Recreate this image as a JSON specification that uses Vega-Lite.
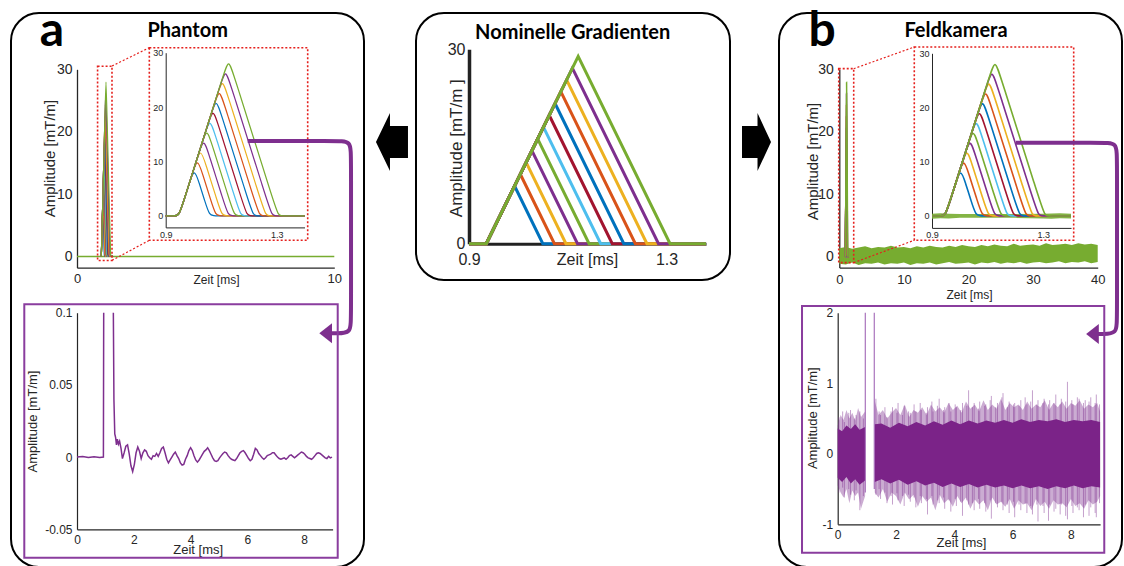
{
"$schema": "https://vega.github.io/schema/vega-lite/v6.json",
"padding": {"left": 10, "top": 7, "right": 0, "bottom": 0},
"background": "white",
"config": {
 "view": {"stroke": null},
 "axis": {"grid": false, "ticks": false, "labelFont": "Liberation Sans", "titleFont": "Liberation Sans", "labelColor": "#262626", "titleColor": "#262626", "titleFontWeight": "normal", "domainColor": "#262626", "labelFontSize": 13, "titleFontSize": 13, "labelFlush": false, "labelOverlap": false, "labelBound": false}
},
"datasets": {
 "base10": [{"t":0,"v":0},{"t":10,"v":0}],
 "grad": [
  {"g":"c00","t":0.9,"v":0},{"g":"c00","t":0.93,"v":0},{"g":"c00","t":0.948,"v":0},{"g":"c00","t":0.966,"v":2.92},{"g":"c00","t":0.9849,"v":5.98},{"g":"c00","t":1.0029,"v":8.9},{"g":"c00","t":1.0209,"v":5.98},{"g":"c00","t":1.0399,"v":2.92},{"g":"c00","t":1.0579,"v":0},{"g":"c00","t":1.0759,"v":0},{"g":"c00","t":1.4,"v":0},
  {"g":"c01","t":0.9,"v":0},{"g":"c01","t":0.93,"v":0},{"g":"c01","t":0.948,"v":0},{"g":"c01","t":0.966,"v":2.92},{"g":"c01","t":0.9962,"v":7.8},{"g":"c01","t":1.0142,"v":10.72},{"g":"c01","t":1.0322,"v":7.8},{"g":"c01","t":1.0623,"v":2.92},{"g":"c01","t":1.0803,"v":0},{"g":"c01","t":1.0983,"v":0},{"g":"c01","t":1.4,"v":0},
  {"g":"c02","t":0.9,"v":0},{"g":"c02","t":0.93,"v":0},{"g":"c02","t":0.948,"v":0},{"g":"c02","t":0.966,"v":2.92},{"g":"c02","t":1.0074,"v":9.62},{"g":"c02","t":1.0254,"v":12.54},{"g":"c02","t":1.0434,"v":9.62},{"g":"c02","t":1.0848,"v":2.92},{"g":"c02","t":1.1028,"v":0},{"g":"c02","t":1.1208,"v":0},{"g":"c02","t":1.4,"v":0},
  {"g":"c03","t":0.9,"v":0},{"g":"c03","t":0.93,"v":0},{"g":"c03","t":0.948,"v":0},{"g":"c03","t":0.966,"v":2.92},{"g":"c03","t":1.0186,"v":11.44},{"g":"c03","t":1.0366,"v":14.36},{"g":"c03","t":1.0546,"v":11.44},{"g":"c03","t":1.1073,"v":2.92},{"g":"c03","t":1.1253,"v":0},{"g":"c03","t":1.1433,"v":0},{"g":"c03","t":1.4,"v":0},
  {"g":"c04","t":0.9,"v":0},{"g":"c04","t":0.93,"v":0},{"g":"c04","t":0.948,"v":0},{"g":"c04","t":0.966,"v":2.92},{"g":"c04","t":1.0299,"v":13.26},{"g":"c04","t":1.0479,"v":16.18},{"g":"c04","t":1.0659,"v":13.26},{"g":"c04","t":1.1298,"v":2.92},{"g":"c04","t":1.1478,"v":0},{"g":"c04","t":1.1658,"v":0},{"g":"c04","t":1.4,"v":0},
  {"g":"c05","t":0.9,"v":0},{"g":"c05","t":0.93,"v":0},{"g":"c05","t":0.948,"v":0},{"g":"c05","t":0.966,"v":2.92},{"g":"c05","t":1.0411,"v":15.08},{"g":"c05","t":1.0591,"v":18},{"g":"c05","t":1.0771,"v":15.08},{"g":"c05","t":1.1522,"v":2.92},{"g":"c05","t":1.1702,"v":0},{"g":"c05","t":1.1882,"v":0},{"g":"c05","t":1.4,"v":0},
  {"g":"c06","t":0.9,"v":0},{"g":"c06","t":0.93,"v":0},{"g":"c06","t":0.948,"v":0},{"g":"c06","t":0.966,"v":2.92},{"g":"c06","t":1.0524,"v":16.9},{"g":"c06","t":1.0704,"v":19.82},{"g":"c06","t":1.0884,"v":16.9},{"g":"c06","t":1.1747,"v":2.92},{"g":"c06","t":1.1927,"v":0},{"g":"c06","t":1.2107,"v":0},{"g":"c06","t":1.4,"v":0},
  {"g":"c07","t":0.9,"v":0},{"g":"c07","t":0.93,"v":0},{"g":"c07","t":0.948,"v":0},{"g":"c07","t":0.966,"v":2.92},{"g":"c07","t":1.0636,"v":18.72},{"g":"c07","t":1.0816,"v":21.64},{"g":"c07","t":1.0996,"v":18.72},{"g":"c07","t":1.1972,"v":2.92},{"g":"c07","t":1.2152,"v":0},{"g":"c07","t":1.2332,"v":0},{"g":"c07","t":1.4,"v":0},
  {"g":"c08","t":0.9,"v":0},{"g":"c08","t":0.93,"v":0},{"g":"c08","t":0.948,"v":0},{"g":"c08","t":0.966,"v":2.92},{"g":"c08","t":1.0748,"v":20.54},{"g":"c08","t":1.0928,"v":23.46},{"g":"c08","t":1.1108,"v":20.54},{"g":"c08","t":1.2196,"v":2.92},{"g":"c08","t":1.2376,"v":0},{"g":"c08","t":1.2556,"v":0},{"g":"c08","t":1.4,"v":0},
  {"g":"c09","t":0.9,"v":0},{"g":"c09","t":0.93,"v":0},{"g":"c09","t":0.948,"v":0},{"g":"c09","t":0.966,"v":2.92},{"g":"c09","t":1.0861,"v":22.36},{"g":"c09","t":1.1041,"v":25.28},{"g":"c09","t":1.1221,"v":22.36},{"g":"c09","t":1.2421,"v":2.92},{"g":"c09","t":1.2601,"v":0},{"g":"c09","t":1.2781,"v":0},{"g":"c09","t":1.4,"v":0},
  {"g":"c10","t":0.9,"v":0},{"g":"c10","t":0.93,"v":0},{"g":"c10","t":0.948,"v":0},{"g":"c10","t":0.966,"v":2.92},{"g":"c10","t":1.0973,"v":24.18},{"g":"c10","t":1.1153,"v":27.1},{"g":"c10","t":1.1333,"v":24.18},{"g":"c10","t":1.2646,"v":2.92},{"g":"c10","t":1.2826,"v":0},{"g":"c10","t":1.3006,"v":0},{"g":"c10","t":1.4,"v":0},
  {"g":"c11","t":0.9,"v":0},{"g":"c11","t":0.93,"v":0},{"g":"c11","t":0.948,"v":0},{"g":"c11","t":0.966,"v":2.92},{"g":"c11","t":1.1085,"v":26},{"g":"c11","t":1.1265,"v":28.92},{"g":"c11","t":1.1445,"v":26},{"g":"c11","t":1.287,"v":2.92},{"g":"c11","t":1.305,"v":0},{"g":"c11","t":1.323,"v":0},{"g":"c11","t":1.4,"v":0}
 ],
 "nom": [
  {"g":"c00","t":0.9,"v":0},{"g":"c00","t":0.935,"v":0},{"g":"c00","t":0.9923,"v":8.9},{"g":"c00","t":1.0495,"v":0},{"g":"c00","t":1.38,"v":0},
  {"g":"c01","t":0.9,"v":0},{"g":"c01","t":0.935,"v":0},{"g":"c01","t":1.004,"v":10.72},{"g":"c01","t":1.073,"v":0},{"g":"c01","t":1.38,"v":0},
  {"g":"c02","t":0.9,"v":0},{"g":"c02","t":0.935,"v":0},{"g":"c02","t":1.0157,"v":12.54},{"g":"c02","t":1.0964,"v":0},{"g":"c02","t":1.38,"v":0},
  {"g":"c03","t":0.9,"v":0},{"g":"c03","t":0.935,"v":0},{"g":"c03","t":1.0274,"v":14.36},{"g":"c03","t":1.1198,"v":0},{"g":"c03","t":1.38,"v":0},
  {"g":"c04","t":0.9,"v":0},{"g":"c04","t":0.935,"v":0},{"g":"c04","t":1.0391,"v":16.18},{"g":"c04","t":1.1432,"v":0},{"g":"c04","t":1.38,"v":0},
  {"g":"c05","t":0.9,"v":0},{"g":"c05","t":0.935,"v":0},{"g":"c05","t":1.0508,"v":18},{"g":"c05","t":1.1667,"v":0},{"g":"c05","t":1.38,"v":0},
  {"g":"c06","t":0.9,"v":0},{"g":"c06","t":0.935,"v":0},{"g":"c06","t":1.0625,"v":19.82},{"g":"c06","t":1.1901,"v":0},{"g":"c06","t":1.38,"v":0},
  {"g":"c07","t":0.9,"v":0},{"g":"c07","t":0.935,"v":0},{"g":"c07","t":1.0743,"v":21.64},{"g":"c07","t":1.2135,"v":0},{"g":"c07","t":1.38,"v":0},
  {"g":"c08","t":0.9,"v":0},{"g":"c08","t":0.935,"v":0},{"g":"c08","t":1.086,"v":23.46},{"g":"c08","t":1.2369,"v":0},{"g":"c08","t":1.38,"v":0},
  {"g":"c09","t":0.9,"v":0},{"g":"c09","t":0.935,"v":0},{"g":"c09","t":1.0977,"v":25.28},{"g":"c09","t":1.2604,"v":0},{"g":"c09","t":1.38,"v":0},
  {"g":"c10","t":0.9,"v":0},{"g":"c10","t":0.935,"v":0},{"g":"c10","t":1.1094,"v":27.1},{"g":"c10","t":1.2838,"v":0},{"g":"c10","t":1.38,"v":0},
  {"g":"c11","t":0.9,"v":0},{"g":"c11","t":0.935,"v":0},{"g":"c11","t":1.1211,"v":28.92},{"g":"c11","t":1.3072,"v":0},{"g":"c11","t":1.38,"v":0}
 ],
 "pb": [
  {"s":"a","t":0,"v":0},{"s":"a","t":0.2,"v":0.0004},{"s":"a","t":0.4,"v":-0.0003},{"s":"a","t":0.6,"v":0.0003},{"s":"a","t":0.8,"v":-0.0002},{"s":"a","t":0.93,"v":0},{"s":"a","t":0.94,"v":0.1},
  {"s":"b","t":1.28,"v":0.1},{"s":"b","t":1.3,"v":0.04},{"s":"b","t":1.33,"v":0.016},{"s":"b","t":1.36,"v":0.0135},{"s":"b","t":1.39,"v":0.0085},{"s":"b","t":1.42,"v":0.0125},{"s":"b","t":1.46,"v":0.009},{"s":"b","t":1.5,"v":0.011},{"s":"b","t":1.55,"v":0.006},{"s":"b","t":1.6,"v":-0.001},{"s":"b","t":1.66,"v":0.003},{"s":"b","t":1.72,"v":0.0075},{"s":"b","t":1.78,"v":0.0085},{"s":"b","t":1.84,"v":0.002},{"s":"b","t":1.9,"v":-0.006},{"s":"b","t":1.96,"v":-0.01},{"s":"b","t":2.02,"v":-0.005},{"s":"b","t":2.08,"v":0.003},{"s":"b","t":2.14,"v":0.007},{"s":"b","t":2.2,"v":0.004},{"s":"b","t":2.26,"v":-0.001},{"s":"b","t":2.32,"v":0.003},{"s":"b","t":2.38,"v":0.005},{"s":"b","t":2.44,"v":0.004},{"s":"b","t":2.5,"v":0.001},{"s":"b","t":2.56,"v":-0.0005},{"s":"b","t":2.62,"v":-0.0015},{"s":"b","t":2.68,"v":0.001},{"s":"b","t":2.74,"v":0.0005},{"s":"b","t":2.8,"v":0.0025},{"s":"b","t":2.86,"v":0.0005},{"s":"b","t":2.92,"v":0.003},{"s":"b","t":2.98,"v":0.006},{"s":"b","t":3.04,"v":0.007},{"s":"b","t":3.1,"v":0.003},{"s":"b","t":3.16,"v":-0.0015},{"s":"b","t":3.22,"v":-0.004},{"s":"b","t":3.28,"v":-0.002},{"s":"b","t":3.34,"v":0},{"s":"b","t":3.4,"v":0.002},{"s":"b","t":3.46,"v":0.0035},{"s":"b","t":3.52,"v":0.001},{"s":"b","t":3.58,"v":-0.001},{"s":"b","t":3.64,"v":-0.004},{"s":"b","t":3.7,"v":-0.0055},{"s":"b","t":3.76,"v":-0.005},{"s":"b","t":3.82,"v":-0.0015},{"s":"b","t":3.88,"v":0.001},{"s":"b","t":3.94,"v":0.0045},{"s":"b","t":4.0,"v":0.0065},{"s":"b","t":4.06,"v":0.0045},{"s":"b","t":4.12,"v":0.001},{"s":"b","t":4.18,"v":-0.002},{"s":"b","t":4.24,"v":-0.0035},{"s":"b","t":4.3,"v":-0.002},{"s":"b","t":4.36,"v":0},{"s":"b","t":4.42,"v":0.002},{"s":"b","t":4.48,"v":0.004},{"s":"b","t":4.54,"v":0.005},{"s":"b","t":4.6,"v":0.0065},{"s":"b","t":4.66,"v":0.0045},{"s":"b","t":4.72,"v":0.002},{"s":"b","t":4.78,"v":-0.0005},{"s":"b","t":4.84,"v":-0.0025},{"s":"b","t":4.9,"v":-0.003},{"s":"b","t":4.96,"v":-0.0025},{"s":"b","t":5.02,"v":-0.0005},{"s":"b","t":5.08,"v":0.001},{"s":"b","t":5.14,"v":0.0025},{"s":"b","t":5.2,"v":0.0035},{"s":"b","t":5.26,"v":0.003},{"s":"b","t":5.32,"v":0.001},{"s":"b","t":5.38,"v":-0.0005},{"s":"b","t":5.44,"v":-0.0015},{"s":"b","t":5.5,"v":-0.002},{"s":"b","t":5.56,"v":-0.0025},{"s":"b","t":5.62,"v":-0.001},{"s":"b","t":5.68,"v":0.001},{"s":"b","t":5.74,"v":0.003},{"s":"b","t":5.8,"v":0.004},{"s":"b","t":5.86,"v":0.0045},{"s":"b","t":5.92,"v":0.003},{"s":"b","t":5.98,"v":0.001},{"s":"b","t":6.04,"v":-0.001},{"s":"b","t":6.1,"v":-0.0025},{"s":"b","t":6.16,"v":-0.0015},{"s":"b","t":6.22,"v":0.002},{"s":"b","t":6.28,"v":0.006},{"s":"b","t":6.34,"v":0.005},{"s":"b","t":6.4,"v":0.0025},{"s":"b","t":6.46,"v":0.001},{"s":"b","t":6.52,"v":-0.0005},{"s":"b","t":6.58,"v":-0.0015},{"s":"b","t":6.64,"v":-0.0005},{"s":"b","t":6.7,"v":0.001},{"s":"b","t":6.76,"v":0.0015},{"s":"b","t":6.82,"v":0.002},{"s":"b","t":6.88,"v":0.003},{"s":"b","t":6.94,"v":0.003},{"s":"b","t":7.0,"v":0.0015},{"s":"b","t":7.06,"v":0},{"s":"b","t":7.12,"v":-0.001},{"s":"b","t":7.18,"v":-0.0015},{"s":"b","t":7.24,"v":-0.001},{"s":"b","t":7.3,"v":-0.0005},{"s":"b","t":7.36,"v":-0.0015},{"s":"b","t":7.42,"v":-0.0005},{"s":"b","t":7.48,"v":0.001},{"s":"b","t":7.54,"v":0.0015},{"s":"b","t":7.6,"v":0.0005},{"s":"b","t":7.66,"v":-0.0005},{"s":"b","t":7.72,"v":0.0005},{"s":"b","t":7.78,"v":0.0015},{"s":"b","t":7.84,"v":0.0025},{"s":"b","t":7.9,"v":0.0035},{"s":"b","t":7.96,"v":0.003},{"s":"b","t":8.02,"v":0.002},{"s":"b","t":8.08,"v":0.0005},{"s":"b","t":8.14,"v":-0.0005},{"s":"b","t":8.2,"v":-0.001},{"s":"b","t":8.26,"v":-0.0015},{"s":"b","t":8.32,"v":-0.0005},{"s":"b","t":8.38,"v":0.001},{"s":"b","t":8.44,"v":0.0025},{"s":"b","t":8.5,"v":0.003},{"s":"b","t":8.56,"v":0.0025},{"s":"b","t":8.62,"v":0.0015},{"s":"b","t":8.68,"v":0.0005},{"s":"b","t":8.74,"v":-0.0005},{"s":"b","t":8.8,"v":-0.001},{"s":"b","t":8.86,"v":0.0005},{"s":"b","t":8.92,"v":-0.0005},{"s":"b","t":8.98,"v":0}
 ],
 "fmb": [
  {"t":0,"lo":-1.1,"hi":1.4},{"t":1,"lo":-1.2,"hi":1.6},{"t":2,"lo":-0.9,"hi":1.3},{"t":3,"lo":-1.3,"hi":1.5},{"t":4,"lo":-1.0,"hi":1.7},{"t":5,"lo":-1.1,"hi":1.4},{"t":6,"lo":-0.9,"hi":1.6},{"t":7,"lo":-1.2,"hi":1.5},{"t":8,"lo":-1.0,"hi":1.8},{"t":9,"lo":-1.1,"hi":1.5},{"t":10,"lo":-0.9,"hi":1.6},{"t":11,"lo":-1.3,"hi":1.4},{"t":12,"lo":-1.0,"hi":1.7},{"t":13,"lo":-1.1,"hi":1.5},{"t":14,"lo":-0.9,"hi":1.8},{"t":15,"lo":-1.2,"hi":1.6},{"t":16,"lo":-1.0,"hi":1.5},{"t":17,"lo":-0.8,"hi":1.8},{"t":18,"lo":-1.1,"hi":1.6},{"t":19,"lo":-1.0,"hi":1.9},{"t":20,"lo":-0.9,"hi":1.7},{"t":21,"lo":-1.2,"hi":1.6},{"t":22,"lo":-0.9,"hi":1.9},{"t":23,"lo":-1.0,"hi":1.7},{"t":24,"lo":-0.8,"hi":2.0},{"t":25,"lo":-1.1,"hi":1.8},{"t":26,"lo":-0.9,"hi":1.7},{"t":27,"lo":-1.0,"hi":2.1},{"t":28,"lo":-0.8,"hi":1.8},{"t":29,"lo":-1.1,"hi":1.9},{"t":30,"lo":-0.9,"hi":2.0},{"t":31,"lo":-0.8,"hi":1.8},{"t":32,"lo":-1.0,"hi":2.2},{"t":33,"lo":-0.9,"hi":1.9},{"t":34,"lo":-0.7,"hi":2.0},{"t":35,"lo":-1.0,"hi":2.1},{"t":36,"lo":-0.8,"hi":1.9},{"t":37,"lo":-0.9,"hi":2.2},{"t":38,"lo":-0.7,"hi":2.0},{"t":39,"lo":-1.0,"hi":2.1},{"t":40,"lo":-0.8,"hi":1.9}
 ],
 "fib": [
  {"t":0.9,"lo":-0.5,"hi":0.4},{"t":0.93,"lo":-0.4,"hi":0.5},{"t":0.96,"lo":-0.45,"hi":0.4},{"t":1.0,"lo":-0.35,"hi":0.35},{"t":1.2,"lo":-0.35,"hi":0.35},{"t":1.3,"lo":-0.45,"hi":0.4},{"t":1.33,"lo":-0.5,"hi":0.45},{"t":1.36,"lo":-0.4,"hi":0.5},{"t":1.4,"lo":-0.45,"hi":0.4}
 ],
 "fo": [
  {"s":"a","t":0,"lo":-0.45,"hi":0.4},{"s":"a","t":0.1,"lo":-0.55,"hi":0.55},{"s":"a","t":0.2,"lo":-0.62,"hi":0.48},{"s":"a","t":0.3,"lo":-0.5,"hi":0.62},{"s":"a","t":0.4,"lo":-0.7,"hi":0.5},{"s":"a","t":0.5,"lo":-0.52,"hi":0.58},{"s":"a","t":0.6,"lo":-0.6,"hi":0.47},{"s":"a","t":0.7,"lo":-0.55,"hi":0.65},{"s":"a","t":0.8,"lo":-0.78,"hi":0.52},{"s":"a","t":0.94,"lo":-0.6,"hi":0.6},
  {"s":"b","t":1.27,"lo":-0.55,"hi":0.75},{"s":"b","t":1.4,"lo":-0.62,"hi":0.55},{"s":"b","t":1.55,"lo":-0.5,"hi":0.62},{"s":"b","t":1.7,"lo":-0.68,"hi":0.5},{"s":"b","t":1.85,"lo":-0.55,"hi":0.58},{"s":"b","t":2.0,"lo":-0.6,"hi":0.65},{"s":"b","t":2.15,"lo":-0.72,"hi":0.55},{"s":"b","t":2.3,"lo":-0.55,"hi":0.7},{"s":"b","t":2.45,"lo":-0.65,"hi":0.52},{"s":"b","t":2.6,"lo":-0.58,"hi":0.62},{"s":"b","t":2.75,"lo":-0.75,"hi":0.58},{"s":"b","t":2.9,"lo":-0.6,"hi":0.66},{"s":"b","t":3.05,"lo":-0.68,"hi":0.55},{"s":"b","t":3.2,"lo":-0.62,"hi":0.7},{"s":"b","t":3.35,"lo":-0.8,"hi":0.6},{"s":"b","t":3.5,"lo":-0.58,"hi":0.66},{"s":"b","t":3.65,"lo":-0.7,"hi":0.58},{"s":"b","t":3.8,"lo":-0.64,"hi":0.72},{"s":"b","t":3.95,"lo":-0.75,"hi":0.62},{"s":"b","t":4.1,"lo":-0.6,"hi":0.68},{"s":"b","t":4.25,"lo":-0.7,"hi":0.58},{"s":"b","t":4.4,"lo":-0.62,"hi":0.74},{"s":"b","t":4.55,"lo":-0.78,"hi":0.64},{"s":"b","t":4.7,"lo":-0.65,"hi":0.7},{"s":"b","t":4.85,"lo":-0.72,"hi":0.6},{"s":"b","t":5.0,"lo":-0.66,"hi":0.76},{"s":"b","t":5.15,"lo":-0.8,"hi":0.62},{"s":"b","t":5.3,"lo":-0.62,"hi":0.7},{"s":"b","t":5.45,"lo":-0.72,"hi":0.64},{"s":"b","t":5.6,"lo":-0.68,"hi":0.78},{"s":"b","t":5.75,"lo":-0.75,"hi":0.62},{"s":"b","t":5.9,"lo":-0.64,"hi":0.72},{"s":"b","t":6.05,"lo":-0.78,"hi":0.66},{"s":"b","t":6.2,"lo":-0.66,"hi":0.7},{"s":"b","t":6.35,"lo":-0.72,"hi":0.62},{"s":"b","t":6.5,"lo":-0.7,"hi":0.74},{"s":"b","t":6.65,"lo":-0.8,"hi":0.64},{"s":"b","t":6.8,"lo":-0.64,"hi":0.7},{"s":"b","t":6.95,"lo":-0.74,"hi":0.66},{"s":"b","t":7.1,"lo":-0.68,"hi":0.76},{"s":"b","t":7.25,"lo":-0.78,"hi":0.62},{"s":"b","t":7.4,"lo":-0.66,"hi":0.72},{"s":"b","t":7.55,"lo":-0.72,"hi":0.66},{"s":"b","t":7.7,"lo":-0.7,"hi":0.74},{"s":"b","t":7.85,"lo":-0.76,"hi":0.64},{"s":"b","t":8.0,"lo":-0.64,"hi":0.72},{"s":"b","t":8.15,"lo":-0.74,"hi":0.68},{"s":"b","t":8.3,"lo":-0.7,"hi":0.76},{"s":"b","t":8.45,"lo":-0.78,"hi":0.64},{"s":"b","t":8.6,"lo":-0.66,"hi":0.7},{"s":"b","t":8.75,"lo":-0.72,"hi":0.66},{"s":"b","t":8.9,"lo":-0.68,"hi":0.72},{"s":"b","t":9.0,"lo":-0.6,"hi":0.6}
 ],
 "fi": [
  {"s":"a","t":0,"lo":-0.34,"hi":0.36},{"s":"a","t":0.15,"lo":-0.4,"hi":0.32},{"s":"a","t":0.3,"lo":-0.33,"hi":0.4},{"s":"a","t":0.45,"lo":-0.42,"hi":0.35},{"s":"a","t":0.6,"lo":-0.36,"hi":0.42},{"s":"a","t":0.75,"lo":-0.44,"hi":0.34},{"s":"a","t":0.94,"lo":-0.38,"hi":0.38},
  {"s":"b","t":1.27,"lo":-0.4,"hi":0.42},{"s":"b","t":1.5,"lo":-0.36,"hi":0.43},{"s":"b","t":1.8,"lo":-0.42,"hi":0.37},{"s":"b","t":2.1,"lo":-0.37,"hi":0.44},{"s":"b","t":2.4,"lo":-0.44,"hi":0.39},{"s":"b","t":2.7,"lo":-0.39,"hi":0.45},{"s":"b","t":3.0,"lo":-0.45,"hi":0.4},{"s":"b","t":3.3,"lo":-0.41,"hi":0.46},{"s":"b","t":3.6,"lo":-0.47,"hi":0.41},{"s":"b","t":3.9,"lo":-0.42,"hi":0.47},{"s":"b","t":4.2,"lo":-0.47,"hi":0.42},{"s":"b","t":4.5,"lo":-0.43,"hi":0.47},{"s":"b","t":4.8,"lo":-0.48,"hi":0.43},{"s":"b","t":5.1,"lo":-0.44,"hi":0.47},{"s":"b","t":5.4,"lo":-0.48,"hi":0.44},{"s":"b","t":5.7,"lo":-0.45,"hi":0.48},{"s":"b","t":6.0,"lo":-0.49,"hi":0.44},{"s":"b","t":6.3,"lo":-0.45,"hi":0.49},{"s":"b","t":6.6,"lo":-0.49,"hi":0.45},{"s":"b","t":6.9,"lo":-0.46,"hi":0.48},{"s":"b","t":7.2,"lo":-0.5,"hi":0.46},{"s":"b","t":7.5,"lo":-0.46,"hi":0.49},{"s":"b","t":7.8,"lo":-0.49,"hi":0.45},{"s":"b","t":8.1,"lo":-0.45,"hi":0.48},{"s":"b","t":8.4,"lo":-0.49,"hi":0.46},{"s":"b","t":8.7,"lo":-0.46,"hi":0.48},{"s":"b","t":9.0,"lo":-0.48,"hi":0.45}
 ],
 "fs": [
  {"t":0.04,"lo":-0.55,"hi":0.52},{"t":0.17,"lo":-0.48,"hi":0.6},{"t":0.23,"lo":-0.62,"hi":0.45},{"t":0.38,"lo":-0.5,"hi":0.58},{"t":0.44,"lo":-0.58,"hi":0.62},{"t":0.57,"lo":-0.66,"hi":0.5},{"t":0.63,"lo":-0.52,"hi":0.55},{"t":0.76,"lo":-0.8,"hi":0.6},{"t":0.88,"lo":-0.6,"hi":0.5},
  {"t":1.31,"lo":-0.58,"hi":0.78},{"t":1.42,"lo":-0.5,"hi":0.6},{"t":1.47,"lo":-0.64,"hi":0.55},{"t":1.62,"lo":-0.55,"hi":0.66},{"t":1.69,"lo":-0.7,"hi":0.52},{"t":1.83,"lo":-0.6,"hi":0.6},{"t":1.88,"lo":-0.72,"hi":0.66},{"t":2.03,"lo":-0.56,"hi":0.58},{"t":2.07,"lo":-0.66,"hi":0.72},{"t":2.22,"lo":-0.6,"hi":0.55},{"t":2.28,"lo":-0.74,"hi":0.68},{"t":2.43,"lo":-0.58,"hi":0.6},{"t":2.49,"lo":-0.68,"hi":0.58},{"t":2.62,"lo":-0.62,"hi":0.7},{"t":2.68,"lo":-0.76,"hi":0.6},{"t":2.83,"lo":-0.6,"hi":0.72},{"t":2.87,"lo":-0.7,"hi":0.62},{"t":3.04,"lo":-0.64,"hi":0.58},{"t":3.08,"lo":-0.86,"hi":0.66},{"t":3.23,"lo":-0.6,"hi":0.74},{"t":3.27,"lo":-0.72,"hi":0.6},{"t":3.42,"lo":-0.66,"hi":0.68},{"t":3.48,"lo":-0.7,"hi":0.78},{"t":3.63,"lo":-0.62,"hi":0.62},{"t":3.67,"lo":-0.78,"hi":0.66},{"t":3.82,"lo":-0.66,"hi":0.72},{"t":3.88,"lo":-0.82,"hi":0.6},{"t":4.03,"lo":-0.64,"hi":0.7},{"t":4.07,"lo":-0.74,"hi":0.66},{"t":4.22,"lo":-0.68,"hi":0.62},{"t":4.28,"lo":-0.88,"hi":0.72},{"t":4.43,"lo":-0.66,"hi":0.68},{"t":4.49,"lo":-0.72,"hi":0.9},{"t":4.62,"lo":-0.7,"hi":0.66},{"t":4.68,"lo":-0.8,"hi":0.72},{"t":4.83,"lo":-0.64,"hi":0.64},{"t":4.87,"lo":-0.78,"hi":0.74},{"t":5.04,"lo":-0.7,"hi":0.68},{"t":5.08,"lo":-0.82,"hi":0.7},{"t":5.23,"lo":-0.66,"hi":0.76},{"t":5.27,"lo":-0.92,"hi":0.82},{"t":5.42,"lo":-0.7,"hi":0.66},{"t":5.48,"lo":-0.76,"hi":0.72},{"t":5.63,"lo":-0.68,"hi":0.8},{"t":5.67,"lo":-0.8,"hi":0.86},{"t":5.82,"lo":-0.72,"hi":0.66},{"t":5.88,"lo":-0.84,"hi":0.74},{"t":6.03,"lo":-0.68,"hi":0.7},{"t":6.07,"lo":-0.9,"hi":0.72},{"t":6.22,"lo":-0.72,"hi":0.68},{"t":6.28,"lo":-0.8,"hi":0.76},{"t":6.43,"lo":-0.7,"hi":0.8},{"t":6.49,"lo":-0.84,"hi":0.7},{"t":6.62,"lo":-0.74,"hi":0.74},{"t":6.68,"lo":-0.86,"hi":0.9},{"t":6.83,"lo":-0.72,"hi":0.7},{"t":6.87,"lo":-0.96,"hi":0.76},{"t":7.04,"lo":-0.74,"hi":0.72},{"t":7.08,"lo":-0.84,"hi":0.78},{"t":7.23,"lo":-0.95,"hi":0.7},{"t":7.27,"lo":-0.72,"hi":0.76},{"t":7.42,"lo":-0.82,"hi":0.72},{"t":7.48,"lo":-0.78,"hi":0.84},{"t":7.63,"lo":-0.86,"hi":0.7},{"t":7.67,"lo":-0.72,"hi":0.78},{"t":7.82,"lo":-0.88,"hi":0.74},{"t":7.88,"lo":-0.93,"hi":1.02},{"t":8.03,"lo":-0.74,"hi":0.76},{"t":8.07,"lo":-0.84,"hi":0.7},{"t":8.22,"lo":-0.76,"hi":0.8},{"t":8.28,"lo":-0.8,"hi":0.78},{"t":8.43,"lo":-0.9,"hi":0.72},{"t":8.49,"lo":-0.72,"hi":0.76},{"t":8.62,"lo":-0.88,"hi":0.74},{"t":8.68,"lo":-0.76,"hi":0.8},{"t":8.83,"lo":-0.84,"hi":0.72},{"t":8.87,"lo":-0.9,"hi":0.84},{"t":8.98,"lo":-0.7,"hi":0.7}
 ],
 "fg": [{"t":0.947,"lo":-0.55,"hi":2},{"t":1.255,"lo":-0.5,"hi":2}]
},
"spacing": 52,
"bounds": "flush",
"hconcat": [
 {
  "width": 353, "height": 554,
  "view": {"stroke": "#000000", "strokeWidth": 2, "cornerRadius": 28},
  "resolve": {"scale": {"x": "independent", "y": "independent"}, "axis": {"x": "independent", "y": "independent"}},
  "layer": [
   {"layer": [
    {"data": {"name": "base10"}, "mark": {"type": "line", "color": "#77AC30", "strokeWidth": 1.5},
     "encoding": {
      "x": {"field": "t", "type": "quantitative", "scale": {"domain": [0, 10], "range": [66, 323.3], "nice": false, "zero": false}, "axis": {"orient": "bottom", "offset": -299.3, "values": [0, 10], "labelPadding": 11, "labelBaseline": "middle", "labelFontSize": 13, "title": "Zeit [ms]", "titleX": 205, "titleY": 11.3, "titleBaseline": "middle", "titleAlign": "center", "titleFontSize": 12, "domainWidth": 1.3}},
      "y": {"field": "v", "type": "quantitative", "scale": {"domain": [-1.8, 30], "range": [254.7, 56.3], "nice": false, "zero": false}, "axis": {"orient": "left", "offset": -66, "values": [0, 10, 20, 30], "labelPadding": 5, "labelFontSize": 14, "title": "Amplitude [mT/m]", "titleX": -28, "titleY": 145, "titleBaseline": "middle", "titleAlign": "center", "titleFontSize": 15, "domainWidth": 1.3}}
     }},
    {"data": {"name": "grad"}, "mark": {"type": "line", "interpolate": "basis", "strokeWidth": 1.2},
     "encoding": {"x": {"field": "t", "type": "quantitative"}, "y": {"field": "v", "type": "quantitative"},
      "color": {"field": "g", "type": "nominal", "legend": null, "scale": {"domain": ["c00","c01","c02","c03","c04","c05","c06","c07","c08","c09","c10","c11"], "range": ["#0072BD","#D95319","#EDB120","#7E2F8E","#77AC30","#4DBEEE","#A2142F","#0072BD","#D95319","#EDB120","#7E2F8E","#77AC30"]}}}},
    {"data": {"values": [{"x1": 0.8, "x2": 1.36, "y1": -0.64, "y2": 30.5}]}, "mark": {"type": "rect", "filled": false, "stroke": "#E5201D", "strokeWidth": 1.6, "strokeDash": [2, 2]},
     "encoding": {"x": {"field": "x1", "type": "quantitative"}, "x2": {"field": "x2"}, "y": {"field": "y1", "type": "quantitative"}, "y2": {"field": "y2"}}},
    {"data": {"values": [{}]}, "mark": {"type": "text", "text": "a", "font": "Lato", "fontWeight": "bold", "fontSize": 48, "align": "center", "baseline": "alphabetic", "color": "#000000"},
     "encoding": {"x": {"datum": -0.97, "type": "quantitative"}, "y": {"datum": 33.73, "type": "quantitative"}}},
    {"data": {"values": [{}]}, "mark": {"type": "text", "text": "Phantom", "font": "Lato", "fontWeight": "bold", "fontSize": 20, "align": "center", "baseline": "middle", "color": "#000000"},
     "encoding": {"x": {"datum": 4.302, "type": "quantitative"}, "y": {"datum": 36.14, "type": "quantitative"}}}
   ]},
   {"layer": [
    {"data": {"name": "grad"}, "mark": {"type": "line", "interpolate": "basis", "strokeWidth": 1.2},
     "encoding": {
      "x": {"field": "t", "type": "quantitative", "scale": {"domain": [0.9, 1.4], "range": [154.7, 293.5], "nice": false, "zero": false}, "axis": {"orient": "bottom", "offset": -339.6, "values": [0.9, 1.3], "format": ".1f", "labelPadding": 7, "labelBaseline": "middle", "labelFontSize": 9, "title": null, "domainWidth": 1}},
      "y": {"field": "v", "type": "quantitative", "scale": {"domain": [-2.1, 30], "range": [214.4, 39.7], "nice": false, "zero": false}, "axis": {"orient": "left", "offset": -154.7, "values": [0, 10, 20, 30], "labelPadding": 3, "labelFontSize": 9, "title": null, "domainWidth": 1}},
      "color": {"field": "g", "type": "nominal", "legend": null}}},
    {"data": {"values": [{"x1": 0.841, "x2": 1.4115, "y1": -4.47, "y2": 30.92}]}, "mark": {"type": "rect", "filled": false, "stroke": "#E5201D", "strokeWidth": 1.6, "strokeDash": [2, 2]},
     "encoding": {"x": {"field": "x1", "type": "quantitative"}, "x2": {"field": "x2"}, "y": {"field": "y1", "type": "quantitative"}, "y2": {"field": "y2"}}},
    {"data": {"values": [{"x1": 0.7066, "y1": 27.56, "x2": 0.841, "y2": 30.92}, {"x1": 0.7066, "y1": -8.15, "x2": 0.841, "y2": -4.47}]}, "mark": {"type": "rule", "color": "#E5201D", "strokeWidth": 1.2, "strokeDash": [2, 2]},
     "encoding": {"x": {"field": "x1", "type": "quantitative"}, "x2": {"field": "x2"}, "y": {"field": "y1", "type": "quantitative"}, "y2": {"field": "y2"}}},
    {"data": {"values": [{"o":0,"x":1.1954,"y":13.78},{"o":1,"x":1.5135,"y":13.78},{"o":2,"x":1.5676,"y":13.78},{"o":3,"x":1.5676,"y":11.02},{"o":4,"x":1.5676,"y":-18.75},{"o":5,"x":1.5676,"y":-21.56},{"o":6,"x":1.5135,"y":-21.56},{"o":7,"x":1.4886,"y":-21.56}]},
     "mark": {"type": "line", "interpolate": "basis", "color": "#7E2F8E", "strokeWidth": 4},
     "encoding": {"x": {"field": "x", "type": "quantitative"}, "y": {"field": "y", "type": "quantitative"}, "order": {"field": "o", "type": "quantitative"}}},
    {"data": {"values": [{}]}, "mark": {"type": "point", "filled": true, "shape": "M-0.635,0L0.635,-1L0.635,1Z", "size": 400, "color": "#7E2F8E", "opacity": 1, "strokeWidth": 0},
     "encoding": {"x": {"datum": 1.4762, "type": "quantitative"}, "y": {"datum": -21.56, "type": "quantitative"}}}
   ]},
   {"layer": [
    {"data": {"name": "pb"}, "mark": {"type": "line", "color": "#7E2F8E", "strokeWidth": 1.5},
     "encoding": {
      "x": {"field": "t", "type": "quantitative", "scale": {"domain": [0, 9], "range": [66, 321.6], "nice": false, "zero": false}, "axis": {"orient": "bottom", "offset": -37.7, "values": [0, 2, 4, 6, 8], "labelPadding": 10, "labelBaseline": "middle", "labelFontSize": 12, "title": "Zeit [ms]", "titleX": 186.7, "titleY": 20, "titleBaseline": "middle", "titleAlign": "center", "titleFontSize": 13, "domainWidth": 1.2}},
      "y": {"field": "v", "type": "quantitative", "scale": {"domain": [-0.05, 0.1], "range": [516.3, 299.7], "nice": false, "zero": false}, "axis": {"orient": "left", "offset": -66, "values": [-0.05, 0, 0.05, 0.1], "labelExpr": "datum.value < 0 ? '-' + format(-datum.value, '') : format(datum.value, '')", "labelPadding": 5, "labelFontSize": 12, "title": "Amplitude [mT/m]", "titleX": -44.3, "titleY": 408, "titleBaseline": "middle", "titleAlign": "center", "titleFontSize": 13, "domainWidth": 1.2}},
      "detail": {"field": "s"}}},
    {"data": {"values": [{"x1": -1.856, "x2": 9.18, "y1": -0.0697, "y2": 0.1058}]}, "mark": {"type": "rect", "filled": false, "stroke": "#8A3D9E", "strokeWidth": 2},
     "encoding": {"x": {"field": "x1", "type": "quantitative"}, "x2": {"field": "x2"}, "y": {"field": "y1", "type": "quantitative"}, "y2": {"field": "y2"}}}
   ]}
  ]
 },
 {
  "spacing": 49,
  "bounds": "flush",
  "hconcat": [
   {
    "width": 314, "height": 267,
    "view": {"stroke": "#000000", "strokeWidth": 2, "cornerRadius": 28},
    "layer": [
     {"data": {"name": "nom"}, "mark": {"type": "line", "strokeWidth": 3},
      "encoding": {
       "x": {"field": "t", "type": "quantitative", "scale": {"domain": [0.9, 1.38], "range": [53, 290], "nice": false, "zero": false}, "axis": {"orient": "bottom", "offset": -36.3, "values": [0.9, 1.3], "format": ".1f", "labelPadding": 15.6, "labelBaseline": "middle", "labelFontSize": 16, "title": "Zeit [ms]", "titleX": 171, "titleY": 15.6, "titleBaseline": "middle", "titleAlign": "center", "titleFontSize": 16, "domainWidth": 3, "domainColor": "#222222"}},
       "y": {"field": "v", "type": "quantitative", "scale": {"domain": [0, 30], "range": [230.7, 36.3], "nice": false, "zero": false}, "axis": {"orient": "left", "offset": -53, "values": [0, 30], "labelPadding": 4, "labelFontSize": 16, "title": "Amplitude [mT/m ]", "titleX": -13, "titleY": 134.7, "titleBaseline": "middle", "titleAlign": "center", "titleFontSize": 17, "domainWidth": 3.5, "domainColor": "#222222"}},
       "color": {"field": "g", "type": "nominal", "legend": null, "scale": {"domain": ["c00","c01","c02","c03","c04","c05","c06","c07","c08","c09","c10","c11"], "range": ["#0072BD","#D95319","#EDB120","#7E2F8E","#77AC30","#4DBEEE","#A2142F","#0072BD","#D95319","#EDB120","#7E2F8E","#77AC30"]}}}},
     {"data": {"values": [{}]}, "mark": {"type": "text", "text": "Nominelle Gradienten", "font": "Lato", "fontWeight": "bold", "fontSize": 20, "align": "center", "baseline": "middle", "color": "#000000"},
      "encoding": {"x": {"datum": 1.11, "type": "quantitative"}, "y": {"datum": 32.56, "type": "quantitative"}}},
     {"data": {"values": [{}]}, "mark": {"type": "point", "filled": true, "shape": "M-1.6,0L-0.2,-2.9L-0.2,-1.6L1.6,-1.6L1.6,1.6L-0.2,1.6L-0.2,2.9Z", "size": 400, "color": "#000000", "opacity": 1, "strokeWidth": 0},
      "encoding": {"x": {"datum": 0.744, "type": "quantitative"}, "y": {"datum": 15.69, "type": "quantitative"}}},
     {"data": {"values": [{}]}, "mark": {"type": "point", "filled": true, "shape": "M1.45,0L0.1,-2.9L0.1,-1.6L-1.45,-1.6L-1.45,1.6L0.1,1.6L0.1,2.9Z", "size": 400, "color": "#000000", "opacity": 1, "strokeWidth": 0},
      "encoding": {"x": {"datum": 1.4823, "type": "quantitative"}, "y": {"datum": 15.69, "type": "quantitative"}}}
    ]
   },
   {
    "width": 343, "height": 554,
    "view": {"stroke": "#000000", "strokeWidth": 2, "cornerRadius": 28},
    "resolve": {"scale": {"x": "independent", "y": "independent"}, "axis": {"x": "independent", "y": "independent"}},
    "layer": [
     {"layer": [
      {"data": {"name": "fmb"}, "mark": {"type": "area", "color": "#77AC30", "opacity": 1},
       "encoding": {
        "x": {"field": "t", "type": "quantitative", "scale": {"domain": [0, 40], "range": [60.3, 318.7], "nice": false, "zero": false}, "axis": {"orient": "bottom", "offset": -299.4, "values": [0, 10, 20, 30, 40], "labelPadding": 11.4, "labelBaseline": "middle", "labelFontSize": 13, "title": "Zeit [ms]", "titleX": 190, "titleY": 26.7, "titleBaseline": "middle", "titleAlign": "center", "titleFontSize": 12, "domainWidth": 1.3}},
        "y": {"field": "lo", "type": "quantitative", "scale": {"domain": [-1.7, 30], "range": [254.6, 56.3], "nice": false, "zero": false}, "axis": {"orient": "left", "offset": -60.3, "values": [0, 10, 20, 30], "labelPadding": 6, "labelFontSize": 14, "title": "Amplitude [mT/m]", "titleX": -26.6, "titleY": 148, "titleBaseline": "middle", "titleAlign": "center", "titleFontSize": 15, "domainWidth": 1.3}},
        "y2": {"field": "hi"}}},
      {"data": {"name": "grad"}, "mark": {"type": "line", "interpolate": "basis", "strokeWidth": 1.5},
       "encoding": {"x": {"field": "t", "type": "quantitative"}, "y": {"field": "v", "type": "quantitative"},
        "color": {"field": "g", "type": "nominal", "legend": null, "scale": {"domain": ["c00","c01","c02","c03","c04","c05","c06","c07","c08","c09","c10","c11"], "range": ["#0072BD","#D95319","#EDB120","#7E2F8E","#77AC30","#4DBEEE","#A2142F","#0072BD","#D95319","#EDB120","#7E2F8E","#77AC30"]}}}},
      {"data": {"values": [{"x1": -0.09, "x2": 2.23, "y1": -0.91, "y2": 30.1}]}, "mark": {"type": "rect", "filled": false, "stroke": "#E5201D", "strokeWidth": 1.6, "strokeDash": [2, 2]},
       "encoding": {"x": {"field": "x1", "type": "quantitative"}, "x2": {"field": "x2"}, "y": {"field": "y1", "type": "quantitative"}, "y2": {"field": "y2"}}},
      {"data": {"values": [{}]}, "mark": {"type": "text", "text": "b", "font": "Lato", "fontWeight": "bold", "fontSize": 48, "align": "center", "baseline": "alphabetic", "color": "#000000"},
       "encoding": {"x": {"datum": -2.678, "type": "quantitative"}, "y": {"datum": 33.72, "type": "quantitative"}}},
      {"data": {"values": [{}]}, "mark": {"type": "text", "text": "Feldkamera", "font": "Lato", "fontWeight": "bold", "fontSize": 20, "align": "center", "baseline": "middle", "color": "#000000"},
       "encoding": {"x": {"datum": 18.065, "type": "quantitative"}, "y": {"datum": 36.11, "type": "quantitative"}}}
     ]},
     {"layer": [
      {"data": {"name": "fib"}, "mark": {"type": "area", "color": "#77AC30", "opacity": 0.9},
       "encoding": {
        "x": {"field": "t", "type": "quantitative", "scale": {"domain": [0.9, 1.4], "range": [153, 292], "nice": false, "zero": false}, "axis": {"orient": "bottom", "offset": -339.1, "values": [0.9, 1.3], "format": ".1f", "labelPadding": 6.5, "labelBaseline": "middle", "labelFontSize": 9, "title": null, "domainWidth": 1}},
        "y": {"field": "lo", "type": "quantitative", "scale": {"domain": [-2.2, 30], "range": [214.9, 40.3], "nice": false, "zero": false}, "axis": {"orient": "left", "offset": -153, "values": [0, 10, 20, 30], "labelPadding": 3, "labelFontSize": 9, "title": null, "domainWidth": 1}},
        "y2": {"field": "hi"}}},
      {"data": {"name": "grad"}, "mark": {"type": "line", "interpolate": "basis", "strokeWidth": 1.6},
       "encoding": {"x": {"field": "t", "type": "quantitative"}, "y": {"field": "v", "type": "quantitative"}, "color": {"field": "g", "type": "nominal", "legend": null}}},
      {"data": {"values": [{"x1": 0.8363, "x2": 1.4097, "y1": -4.48, "y2": 31.16}]}, "mark": {"type": "rect", "filled": false, "stroke": "#E5201D", "strokeWidth": 1.6, "strokeDash": [2, 2]},
       "encoding": {"x": {"field": "x1", "type": "quantitative"}, "x2": {"field": "x2"}, "y": {"field": "y1", "type": "quantitative"}, "y2": {"field": "y2"}}},
      {"data": {"values": [{"x1": 0.6183, "y1": 27.16, "x2": 0.8363, "y2": 31.16}, {"x1": 0.6183, "y1": -8.61, "x2": 0.8363, "y2": -4.48}]}, "mark": {"type": "rule", "color": "#E5201D", "strokeWidth": 1.2, "strokeDash": [2, 2]},
       "encoding": {"x": {"field": "x1", "type": "quantitative"}, "x2": {"field": "x2"}, "y": {"field": "y1", "type": "quantitative"}, "y2": {"field": "y2"}}},
      {"data": {"values": [{"o":0,"x":1.2022,"y":13.52},{"o":1,"x":1.5115,"y":13.52},{"o":2,"x":1.5655,"y":13.52},{"o":3,"x":1.5655,"y":10.75},{"o":4,"x":1.5655,"y":-18.99},{"o":5,"x":1.5655,"y":-21.76},{"o":6,"x":1.5115,"y":-21.76},{"o":7,"x":1.4899,"y":-21.76}]},
       "mark": {"type": "line", "interpolate": "basis", "color": "#7E2F8E", "strokeWidth": 4},
       "encoding": {"x": {"field": "x", "type": "quantitative"}, "y": {"field": "y", "type": "quantitative"}, "order": {"field": "o", "type": "quantitative"}}},
      {"data": {"values": [{}]}, "mark": {"type": "point", "filled": true, "shape": "M-0.635,0L0.635,-1L0.635,1Z", "size": 400, "color": "#7E2F8E", "opacity": 1, "strokeWidth": 0},
       "encoding": {"x": {"datum": 1.4773, "type": "quantitative"}, "y": {"datum": -21.76, "type": "quantitative"}}}
     ]},
     {"layer": [
      {"data": {"name": "fo"}, "mark": {"type": "area", "color": "#7E2F8E", "opacity": 0.4},
       "encoding": {
        "x": {"field": "t", "type": "quantitative", "scale": {"domain": [0, 9], "range": [58.7, 321.1], "nice": false, "zero": false}, "axis": {"orient": "bottom", "offset": -42.7, "values": [0, 2, 4, 6, 8], "labelPadding": 10, "labelBaseline": "middle", "labelFontSize": 12, "title": "Zeit [ms]", "titleX": 182, "titleY": 18.4, "titleBaseline": "middle", "titleAlign": "center", "titleFontSize": 13, "domainWidth": 1.2}},
        "y": {"field": "lo", "type": "quantitative", "scale": {"domain": [-1, 2], "range": [511.3, 299.7], "nice": false, "zero": false}, "axis": {"orient": "left", "offset": -58.7, "values": [-1, 0, 1, 2], "labelExpr": "datum.value < 0 ? '-' + format(-datum.value, '') : format(datum.value, '')", "labelPadding": 5, "labelFontSize": 12, "title": "Amplitude [mT/m]", "titleX": -25, "titleY": 404.7, "titleBaseline": "middle", "titleAlign": "center", "titleFontSize": 13, "domainWidth": 1.2}},
        "y2": {"field": "hi"},
        "detail": {"field": "s"}}},
      {"data": {"name": "fs"}, "mark": {"type": "rule", "color": "#7E2F8E", "opacity": 0.5, "strokeWidth": 0.9},
       "encoding": {"x": {"field": "t", "type": "quantitative"}, "y": {"field": "lo", "type": "quantitative"}, "y2": {"field": "hi"}}},
      {"data": {"name": "fi"}, "mark": {"type": "area", "color": "#7B2388", "opacity": 1},
       "encoding": {"x": {"field": "t", "type": "quantitative"}, "y": {"field": "lo", "type": "quantitative"}, "y2": {"field": "hi"}, "detail": {"field": "s"}}},
      {"data": {"name": "fg"}, "mark": {"type": "rule", "color": "#9A5BB0", "opacity": 0.85, "strokeWidth": 1.2},
       "encoding": {"x": {"field": "t", "type": "quantitative"}, "y": {"field": "lo", "type": "quantitative"}, "y2": {"field": "hi"}}},
      {"data": {"values": [{"x1": -1.224, "x2": 9.143, "y1": -1.403, "y2": 2.095}]}, "mark": {"type": "rect", "filled": false, "stroke": "#8A3D9E", "strokeWidth": 2},
       "encoding": {"x": {"field": "x1", "type": "quantitative"}, "x2": {"field": "x2"}, "y": {"field": "y1", "type": "quantitative"}, "y2": {"field": "y2"}}}
     ]}
    ]
   }
  ]
 }
]
}
